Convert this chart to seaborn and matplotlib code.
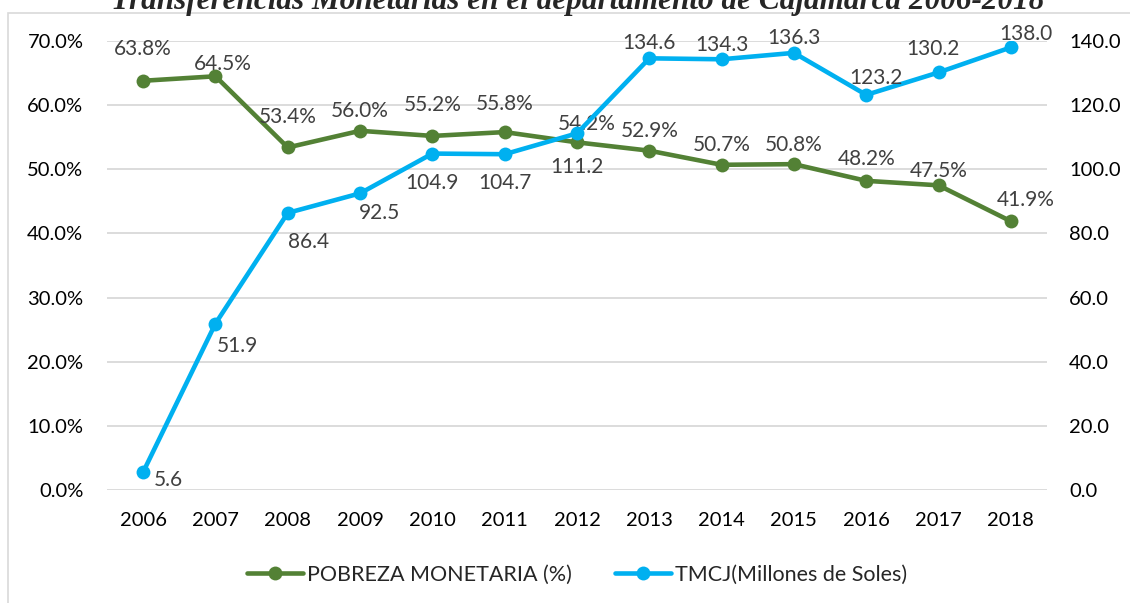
import pandas as pd
import matplotlib
matplotlib.use("Agg")
import matplotlib.pyplot as plt
import seaborn as sns
from matplotlib.patches import Rectangle
from matplotlib.lines import Line2D

years = ["2006", "2007", "2008", "2009", "2010", "2011", "2012",
         "2013", "2014", "2015", "2016", "2017", "2018"]
pobreza = [63.8, 64.5, 53.4, 56.0, 55.2, 55.8, 54.2, 52.9, 50.7, 50.8, 48.2, 47.5, 41.9]
tmcj = [5.6, 51.9, 86.4, 92.5, 104.9, 104.7, 111.2, 134.6, 134.3, 136.3, 123.2, 130.2, 138.0]

title = "Transferencias Monetarias en el departamento de Cajamarca 2006-2018"
label_pobreza = "POBREZA MONETARIA (%)"
label_tmcj = "TMCJ(Millones de Soles)"

# label offsets in points (dx, dy)
off_pobreza = [(0, 23), (5, 9), (0, 22), (0, 14), (0, 22), (0, 20), (7, 13),
               (0, 14), (0, 14), (0, 14), (0, 16), (0, 10), (11, 15)]
off_tmcj = [(18, -6), (16, -16), (15, -21), (14, -14), (0, -21), (0, -21), (0, -24),
            (0, 11), (0, 10), (0, 11), (7, 12), (-4, 17), (11, 10)]

green = "#538135"
blue = "#00B0F0"

df = pd.DataFrame({"year": years, "pobreza": pobreza, "tmcj": tmcj})
df["x"] = range(len(years))

sns.set_style("white")
plt.rcParams["font.family"] = ["Lato", "DejaVu Sans"]

fig = plt.figure(figsize=(11.3, 6.03), dpi=100)
ax = fig.add_axes([107 / 1130, 1 - 490 / 603, 940 / 1130, 449 / 603])
ax2 = ax.twinx()

# chart frame
fig.patches.append(Rectangle((8 / 1130, -0.1), 1.2, 1 - 13 / 603 + 0.1,
                             transform=fig.transFigure, fill=False,
                             edgecolor="#D9D9D9", lw=1.2))

sns.lineplot(data=df, x="x", y="pobreza", ax=ax, color=green, lw=3.3,
             marker="o", markersize=10, markeredgewidth=0, sort=False)
sns.lineplot(data=df, x="x", y="tmcj", ax=ax2, color=blue, lw=3.3,
             marker="o", markersize=10, markeredgewidth=0, sort=False)

ax.set_xlim(-0.5, len(years) - 0.5)
ax.set_ylim(0, 70)
ax2.set_ylim(0, 140)
ax.set_xticks(df["x"])
ax.set_xticklabels(years)
ax.set_yticks(range(0, 71, 10))
ax.set_yticklabels([f"{v:.1f}%" for v in range(0, 71, 10)])
ax2.set_yticks(range(0, 141, 20))
ax2.set_yticklabels([f"{v:.1f}" for v in range(0, 141, 20)])

ax.grid(axis="y", color="#D9D9D9", lw=1.3)
ax.set_axisbelow(True)
for a in (ax, ax2):
    for s in a.spines.values():
        s.set_visible(False)
    a.set_xlabel("")
    a.set_ylabel("")
ax.tick_params(axis="y", length=0, pad=17, labelsize=14.5, labelcolor="black")
ax.tick_params(axis="x", length=0, pad=16, labelsize=14.5, labelcolor="black")
ax2.tick_params(axis="y", length=0, pad=16, labelsize=14.5, labelcolor="black")

for i, v in enumerate(pobreza):
    ax.annotate(f"{v:.1f}%", (i, v), xytext=off_pobreza[i], textcoords="offset points",
                ha="center", va="center", fontsize=15, color="#404040")
for i, v in enumerate(tmcj):
    ax2.annotate(f"{v:.1f}", (i, v), xytext=off_tmcj[i], textcoords="offset points",
                 ha="center", va="center", fontsize=15, color="#404040")

fig.text(578 / 1130, 1 - 9 / 603, title, ha="center", va="baseline",
         fontsize=22.5, fontweight="bold", fontstyle="italic",
         family=["Liberation Serif", "DejaVu Serif"])

handles = [Line2D([0], [0], color=green, lw=3.3, marker="o", markersize=10, markeredgewidth=0),
           Line2D([0], [0], color=blue, lw=3.3, marker="o", markersize=10, markeredgewidth=0)]
fig.legend(handles, [label_pobreza, label_tmcj], loc="center",
           bbox_to_anchor=(577 / 1130, 1 - 575 / 603), ncol=2, frameon=False,
           fontsize=15.5, handlelength=2.6, handletextpad=0.2, columnspacing=2.0)

fig.savefig("out.png", dpi=100)
